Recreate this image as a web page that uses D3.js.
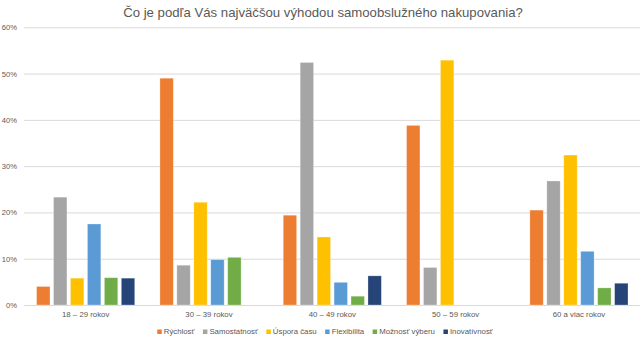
<!DOCTYPE html>
<html>
<head>
<meta charset="utf-8">
<script src="https://cdn.jsdelivr.net/npm/d3@7/dist/d3.min.js"></script>
<style>
  html, body { margin: 0; padding: 0; background: #fff; }
  svg { display: block; font-family: "Liberation Sans", Arial, sans-serif; }
</style>
</head>
<body>
<svg id="chart" width="640" height="341"></svg>
<script>
// Survey answers by age group (share of respondents, %)
const categories = ["18 – 29 rokov", "30 – 39 rokov", "40 – 49 rokov", "50 – 59 rokov", "60 a viac rokov"];
const seriesNames = ["Rýchlosť", "Samostatnosť", "Úspora času", "Flexibilita", "Možnosť výberu", "Inovatívnosť"];
const seriesColors = ["#ED7D31", "#A5A5A5", "#FFC000", "#5B9BD5", "#70AD47", "#264478"];
const rychlost      = [4.0, 49.0, 19.4, 38.8, 20.5];
const samostatnost  = [23.3, 8.6, 52.4, 8.1, 26.8];
const usporaCasu    = [5.8, 22.2, 14.7, 52.9, 32.4];
const flexibilita   = [17.5, 9.8, 4.9, 0, 11.6];
const moznostVyberu = [5.9, 10.3, 1.9, 0, 3.7];
const inovativnost  = [5.8, 0, 6.3, 0, 4.7];
const yTicks = [0, 10, 20, 30, 40, 50, 60];

const values = [rychlost, samostatnost, usporaCasu, flexibilita, moznostVyberu, inovativnost];

const svg = d3.select("#chart");
const textColor = "#595959";
const narrowFont = "'Liberation Sans Narrow', 'Liberation Sans', Arial, sans-serif";

const plot = { left: 24, right: 640.6, top: 27.3, bottom: 305 };

const x0 = d3.scaleBand().domain(categories).range([plot.left, plot.right]).padding(0);
const x1 = d3.scaleBand().domain(seriesNames)
  .range([12.6, x0.bandwidth() - 12.6]).paddingInner(0.21).paddingOuter(0);
const y = d3.scaleLinear().domain([0, 60]).range([plot.bottom, plot.top]);

// Title
svg.append("text")
  .attr("x", 323).attr("y", 16.5)
  .attr("text-anchor", "middle")
  .attr("font-size", 13.2)
  .attr("fill", textColor)
  .text("Čo je podľa Vás najväčšou výhodou samoobslužného nakupovania?");

// Horizontal gridlines with percentage labels
const yAxis = d3.axisLeft(y).tickValues(yTicks).tickSize(-(plot.right - plot.left))
  .tickFormat(d => d + "%").tickPadding(7);
const gy = svg.append("g").attr("transform", `translate(${plot.left},0)`).call(yAxis);
gy.select(".domain").remove();
gy.selectAll(".tick line").attr("stroke", "#D9D9D9").attr("stroke-width", 1);
gy.selectAll(".tick text").attr("fill", textColor).attr("font-size", 7.6)
  .attr("font-family", narrowFont);

// Clustered bars
const groups = svg.append("g").selectAll("g")
  .data(categories)
  .join("g")
  .attr("transform", d => `translate(${x0(d)},0)`);

groups.selectAll("rect")
  .data((c, ci) => seriesNames.map((s, si) => ({ s, si, v: values[si][ci] })).filter(d => d.v > 0))
  .join("rect")
  .attr("x", d => x1(d.s))
  .attr("width", x1.bandwidth())
  .attr("y", d => y(d.v))
  .attr("height", d => y(0) - y(d.v))
  .attr("fill", d => seriesColors[d.si])
  .attr("stroke", "#ffffff")
  .attr("stroke-opacity", 0.35)
  .attr("stroke-width", 0.8);

// Category labels
const xAxis = d3.axisBottom(x0).tickSize(0).tickPadding(6.5);
const gx = svg.append("g").attr("transform", `translate(0,${plot.bottom})`).call(xAxis);
gx.select(".domain").remove();
gx.selectAll(".tick text").attr("fill", textColor).attr("font-size", 7.8)
  .attr("font-family", narrowFont);

// Legend
const legend = svg.append("g");
const items = [];
seriesNames.forEach((name, i) => {
  const g = legend.append("g");
  g.append("rect").attr("x", 0).attr("y", -4.5).attr("width", 4.5).attr("height", 4.5)
    .attr("fill", seriesColors[i]);
  const t = g.append("text").attr("x", 6.5).attr("y", 0)
    .attr("font-size", 7.8).attr("fill", textColor)
    .attr("font-family", narrowFont)
    .text(name);
  items.push({ g, w: 6.5 + t.node().getComputedTextLength() });
});
const gap = 8.5;
const totalW = d3.sum(items, d => d.w) + gap * (items.length - 1);
let lx = 325 - totalW / 2;
items.forEach(it => { it.g.attr("transform", `translate(${lx},334)`); lx += it.w + gap; });
</script>
</body>
</html>
